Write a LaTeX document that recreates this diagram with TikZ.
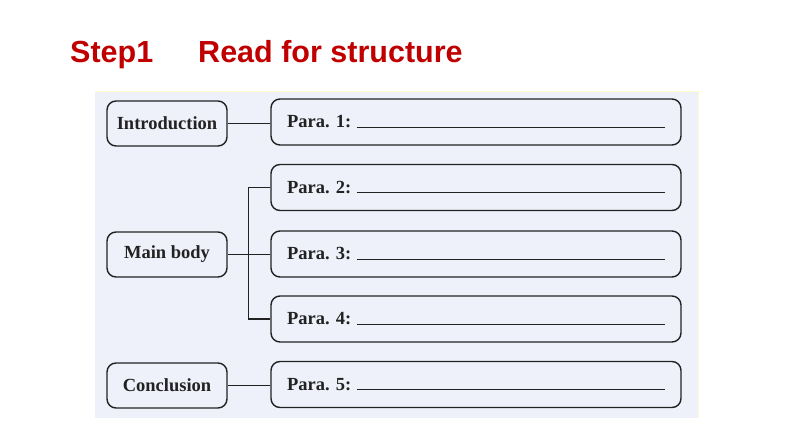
\documentclass[tikz,border=0pt]{standalone}
\usepackage{fontspec}
\setmainfont{Liberation Serif}
\newfontfamily\titlefont{Liberation Sans}
\usetikzlibrary{positioning}
\definecolor{stepred}{RGB}{192,0,0}
\definecolor{panelblue}{RGB}{238,241,249}
\definecolor{inkgray}{RGB}{34,34,34}
\newcommand{\paraline}{\leavevmode\leaders\hrule height 1.1pt\hfill\kern0pt}
\frenchspacing

\begin{document}
\begin{tikzpicture}[x=1pt,y=-1pt,
  partbox/.style={draw=inkgray,line width=1.4pt,rounded corners=9pt,
    minimum width=120pt,minimum height=45pt,text=inkgray,
    font=\fontsize{18.5}{21}\selectfont\bfseries},
  parabox/.style={draw=inkgray,line width=1.4pt,rounded corners=9pt,
    text width=378pt,inner xsep=16pt,minimum height=46pt,align=left,
    text=inkgray,font=\fontsize{18.5}{21}\selectfont\bfseries},
  link/.style={draw=inkgray,line width=1.3pt}]
\useasboundingbox (0,0) rectangle (794,447);
% title
\node (title) [anchor=base west,inner sep=0pt,text=stepred,
  font=\titlefont\bfseries\fontsize{30.5}{36}\selectfont] at (70,62)
  {Step1\hspace{45pt}Read for structure};
% panel
\fill[panelblue] (95,91) rectangle (698,418);
\draw[yellow!20,line width=1pt] (95,91) -- (698,91) -- (698,418);
%
\node (intro) [partbox] at (167,123.5) {Introduction};
\node (body)  [partbox] at (167,254.5) {Main body};
\node (concl) [partbox] at (167,385.5) {Conclusion};
%
\node (p1) [parabox] at (476,122)   {Para. 1: \paraline};
\node (p2) [parabox] at (476,187.5) {Para. 2: \paraline};
\node (p3) [parabox] at (476,254)   {Para. 3: \paraline};
\node (p4) [parabox] at (476,319)   {Para. 4: \paraline};
\node (p5) [parabox] at (476,384.5) {Para. 5: \paraline};
%
\path[link] (intro.east) -- (intro.east -| p1.west);
\path[link] (body.east) -- (body.east -| p3.west);
\path[link] (p2.west) -- ++(-21.5,0) |- (p4.west);
\path[link] (concl.east) -- (concl.east -| p5.west);
\end{tikzpicture}
\end{document}
